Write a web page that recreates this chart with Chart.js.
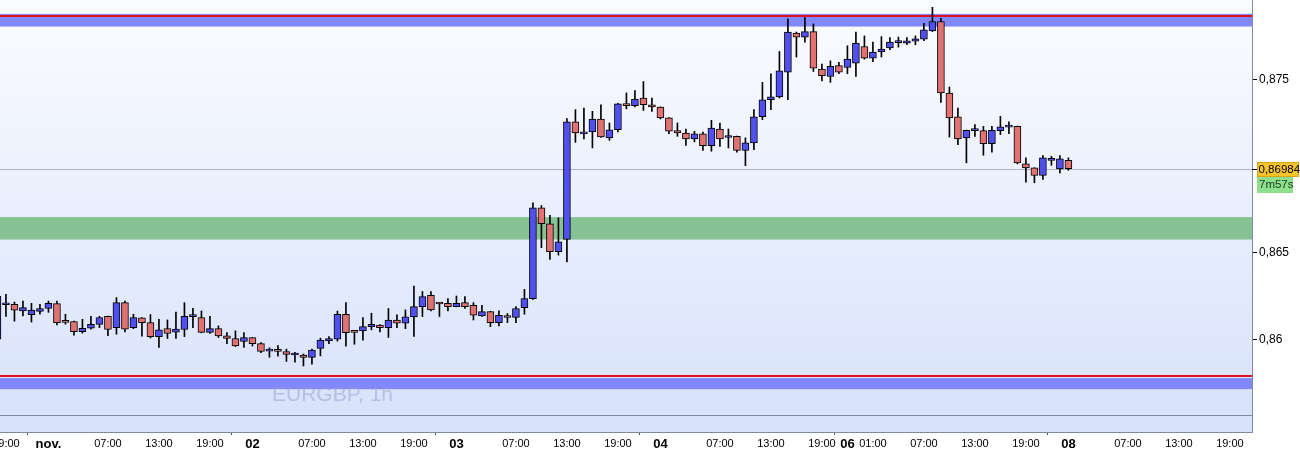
<!DOCTYPE html>
<html lang="fr">
<head>
    <meta charset="UTF-8">
    <title>EURGBP, 1h</title>
    <script src="https://cdn.jsdelivr.net/npm/chart.js"></script>
    <style>
        body, html {
            margin: 0;
            padding: 0;
            background: #fff;
        }
        #wrap {
            width: 1300px;
            height: 451px;
        }
    </style>
</head>
<body>
<div id="wrap"><canvas id="fxChart" width="1300" height="451"></canvas></div>
<script>
// hourly candles, slot -6 .. 120 (weekend gap removed)
const firstSlot = -6;
const opens = [
    0.86001, 0.86200, 0.86202, 0.86164, 0.86143, 0.86162, 0.86178, 0.86206, 0.86100, 0.86103,
    0.86045, 0.86064, 0.86087, 0.86133, 0.86068, 0.86212, 0.86068, 0.86124, 0.86097, 0.86016,
    0.86062, 0.86041, 0.86057, 0.86131, 0.86126, 0.86040, 0.86062, 0.86020, 0.86005, 0.85988,
    0.86011, 0.85976, 0.85932, 0.85934, 0.85930, 0.85910, 0.85910, 0.85896, 0.85948, 0.85991,
    0.86001, 0.86144, 0.86049, 0.86049, 0.86074, 0.86083, 0.86068, 0.86112, 0.86093, 0.86130,
    0.86189, 0.86254, 0.86206, 0.86208, 0.86189, 0.86212, 0.86197, 0.86135, 0.86160, 0.86097,
    0.86135, 0.86126, 0.86183, 0.86235, 0.86759, 0.86667, 0.86506, 0.86576, 0.87254, 0.87185,
    0.87196, 0.87271, 0.87162, 0.87209, 0.87359, 0.87348, 0.87392, 0.87353, 0.87340, 0.87277,
    0.87204, 0.87190, 0.87156, 0.87185, 0.87117, 0.87213, 0.87164, 0.87171, 0.87089, 0.87133,
    0.87284, 0.87382, 0.87398, 0.87541, 0.87766, 0.87743, 0.87775, 0.87559, 0.87516, 0.87579,
    0.87568, 0.87593, 0.87689, 0.87622, 0.87657, 0.87680, 0.87711, 0.87708, 0.87719, 0.87731,
    0.87779, 0.87833, 0.87421, 0.87283, 0.87162, 0.87204, 0.87204, 0.87129, 0.87204, 0.87224,
    0.87228, 0.87012, 0.86989, 0.86945, 0.87032, 0.86983, 0.87033
];
const highs = [
    0.86260, 0.86260, 0.86215, 0.86221, 0.86208, 0.86202, 0.86221, 0.86221, 0.86145, 0.86105,
    0.86116, 0.86133, 0.86133, 0.86135, 0.86241, 0.86221, 0.86145, 0.86126, 0.86143, 0.86116,
    0.86112, 0.86158, 0.86212, 0.86179, 0.86164, 0.86133, 0.86078, 0.86039, 0.86049, 0.86039,
    0.86012, 0.85982, 0.85951, 0.85964, 0.85944, 0.85925, 0.85916, 0.85944, 0.86007, 0.86016,
    0.86163, 0.86212, 0.86050, 0.86126, 0.86151, 0.86085, 0.86178, 0.86141, 0.86170, 0.86308,
    0.86276, 0.86276, 0.86212, 0.86235, 0.86250, 0.86247, 0.86212, 0.86197, 0.86162, 0.86164,
    0.86149, 0.86189, 0.86289, 0.86788, 0.86772, 0.86715, 0.86701, 0.87273, 0.87325, 0.87334,
    0.87315, 0.87353, 0.87248, 0.87361, 0.87421, 0.87434, 0.87487, 0.87392, 0.87341, 0.87279,
    0.87248, 0.87213, 0.87200, 0.87196, 0.87263, 0.87248, 0.87213, 0.87172, 0.87162, 0.87325,
    0.87482, 0.87532, 0.87660, 0.87848, 0.87772, 0.87856, 0.87819, 0.87587, 0.87606, 0.87597,
    0.87693, 0.87772, 0.87750, 0.87714, 0.87746, 0.87741, 0.87743, 0.87741, 0.87750, 0.87823,
    0.87915, 0.87852, 0.87455, 0.87334, 0.87207, 0.87238, 0.87228, 0.87228, 0.87286, 0.87254,
    0.87230, 0.87047, 0.86990, 0.87060, 0.87056, 0.87060, 0.87047
];
const lows = [
    0.85972, 0.86133, 0.86105, 0.86135, 0.86100, 0.86145, 0.86156, 0.86083, 0.86088, 0.86024,
    0.86036, 0.86059, 0.86068, 0.86021, 0.86030, 0.86043, 0.86062, 0.86018, 0.86008, 0.85953,
    0.86005, 0.86005, 0.86016, 0.86068, 0.86038, 0.86034, 0.86011, 0.85976, 0.85959, 0.85953,
    0.85962, 0.85924, 0.85897, 0.85903, 0.85873, 0.85868, 0.85847, 0.85857, 0.85905, 0.85975,
    0.85990, 0.85961, 0.85972, 0.85995, 0.86055, 0.86043, 0.86011, 0.86068, 0.86062, 0.86017,
    0.86132, 0.86164, 0.86132, 0.86164, 0.86188, 0.86178, 0.86112, 0.86132, 0.86074, 0.86078,
    0.86097, 0.86097, 0.86145, 0.86230, 0.86529, 0.86461, 0.86486, 0.86446, 0.87136, 0.87156,
    0.87104, 0.87165, 0.87148, 0.87196, 0.87329, 0.87340, 0.87320, 0.87315, 0.87271, 0.87186,
    0.87171, 0.87119, 0.87139, 0.87089, 0.87085, 0.87113, 0.87104, 0.87080, 0.87002, 0.87094,
    0.87267, 0.87325, 0.87392, 0.87382, 0.87628, 0.87714, 0.87545, 0.87491, 0.87482, 0.87532,
    0.87532, 0.87516, 0.87616, 0.87602, 0.87628, 0.87670, 0.87685, 0.87699, 0.87699, 0.87723,
    0.87775, 0.87367, 0.87167, 0.87123, 0.87018, 0.87171, 0.87062, 0.87079, 0.87181, 0.87186,
    0.87012, 0.86906, 0.86903, 0.86922, 0.87004, 0.86960, 0.86975
];
const closes = [
    0.86248, 0.86204, 0.86169, 0.86183, 0.86169, 0.86178, 0.86208, 0.86097, 0.86098, 0.86045,
    0.86064, 0.86087, 0.86126, 0.86057, 0.86212, 0.86059, 0.86126, 0.86097, 0.86016, 0.86055,
    0.86034, 0.86060, 0.86133, 0.86133, 0.86040, 0.86062, 0.86020, 0.86005, 0.85963, 0.86011,
    0.85976, 0.85930, 0.85934, 0.85931, 0.85913, 0.85911, 0.85896, 0.85938, 0.85996, 0.86005,
    0.86144, 0.86039, 0.86040, 0.86074, 0.86087, 0.86068, 0.86112, 0.86093, 0.86130, 0.86189,
    0.86247, 0.86170, 0.86204, 0.86189, 0.86208, 0.86189, 0.86139, 0.86160, 0.86097, 0.86139,
    0.86126, 0.86178, 0.86235, 0.86759, 0.86667, 0.86506, 0.86563, 0.87254, 0.87190, 0.87196,
    0.87271, 0.87167, 0.87209, 0.87359, 0.87348, 0.87386, 0.87353, 0.87340, 0.87277, 0.87200,
    0.87190, 0.87156, 0.87185, 0.87117, 0.87219, 0.87156, 0.87166, 0.87089, 0.87133, 0.87283,
    0.87382, 0.87398, 0.87549, 0.87772, 0.87743, 0.87775, 0.87564, 0.87520, 0.87574, 0.87541,
    0.87616, 0.87708, 0.87622, 0.87657, 0.87674, 0.87714, 0.87713, 0.87722, 0.87733, 0.87785,
    0.87833, 0.87421, 0.87277, 0.87156, 0.87205, 0.87206, 0.87129, 0.87205, 0.87225, 0.87226,
    0.87018, 0.86989, 0.86945, 0.87047, 0.87034, 0.87041, 0.86984
];

// time axis labels (slot index -> text)
const tickSlots = [-5, 0, 7, 13, 19, 24, 31, 37, 43, 48, 55, 61, 67, 72, 79, 85, 91, 94, 97, 103, 109, 115, 120, 127, 133, 139];
const tickLabels = ['19:00', 'nov.', '07:00', '13:00', '19:00', '02', '07:00', '13:00', '19:00', '03', '07:00', '13:00', '19:00', '04',
    '07:00', '13:00', '19:00', '06', '01:00', '07:00', '13:00', '19:00', '08', '07:00', '13:00', '19:00'];
const priceTicks = [0.86, 0.865, 0.875];

// levels drawn on the chart
const upperZone = [0.87804, 0.87877];
const upperLine = 0.87864;
const greenZone = [0.86576, 0.86705];
const lowerZone = [0.85713, 0.85777];
const lowerLine = 0.85791;
const bottomLine = 0.85564;
const lastPrice = 0.86984;
const timerText = '7m57s';
const symbolText = 'EURGBP, 1h';

const wickData = opens.map((o, k) => ({ x: firstSlot + k, y: [lows[k], highs[k]] }));
const bodyData = opens.map((o, k) => ({ x: firstSlot + k, y: [o, closes[k]] }));

const fmt = v => String(v).replace('.', ',');
const FONT = 'Arial, "Liberation Sans", sans-serif';

// background, zones, lines and watermark
const levelsPlugin = {
    id: 'levels',
    beforeDraw(chart) {
        const { ctx, chartArea: a } = chart;
        ctx.save();
        ctx.fillStyle = '#ffffff';
        ctx.fillRect(0, 0, chart.width, chart.height);
        const g = ctx.createLinearGradient(0, a.top, 0, a.bottom);
        g.addColorStop(0, '#fbfcff');
        g.addColorStop(1, '#d6e1fb');
        ctx.fillStyle = g;
        ctx.fillRect(a.left, a.top, a.right - a.left, a.bottom - a.top);
        ctx.restore();
    },
    beforeDatasetsDraw(chart) {
        const { ctx, chartArea: a, scales: { y } } = chart;
        const band = (z, color) => {
            const y1 = y.getPixelForValue(z[1]);
            const y0 = y.getPixelForValue(z[0]);
            ctx.fillStyle = color;
            ctx.fillRect(a.left, y1, a.right - a.left, y0 - y1);
        };
        const line = (v, color, w) => {
            const py = Math.round(y.getPixelForValue(v)) + (w % 2 ? 0.5 : 0);
            ctx.strokeStyle = color;
            ctx.lineWidth = w;
            ctx.beginPath();
            ctx.moveTo(a.left, py);
            ctx.lineTo(a.right, py);
            ctx.stroke();
        };
        ctx.save();
        band(upperZone, '#8088fc');
        band(greenZone, '#86c293');
        band(lowerZone, '#8088fc');
        line(upperLine, '#e0101c', 2);
        line(lowerLine, '#e0101c', 2);
        line(bottomLine, '#7f8a9e', 1);
        line(lastPrice, '#b0b4bc', 1);
        ctx.font = '21px ' + FONT;
        ctx.fillStyle = 'rgba(145, 158, 205, 0.5)';
        ctx.textBaseline = 'alphabetic';
        ctx.fillText(symbolText, 272, 401);
        ctx.restore();
    },
    afterDraw(chart) {
        const { ctx, chartArea: a, scales: { y } } = chart;
        const py = Math.round(y.getPixelForValue(lastPrice));
        ctx.save();
        ctx.strokeStyle = '#000';
        ctx.lineWidth = 1;
        ctx.beginPath();
        ctx.moveTo(a.right, py + 0.5);
        ctx.lineTo(a.right + 5, py + 0.5);
        ctx.stroke();
        // price tag
        ctx.fillStyle = '#f6c429';
        ctx.fillRect(1257, py - 7, 42, 15);
        ctx.strokeStyle = '#d9a514';
        ctx.strokeRect(1257.5, py - 6.5, 41, 14);
        ctx.fillStyle = '#8ee08e';
        ctx.fillRect(1257, py + 8, 36, 16);
        ctx.font = '11.5px ' + FONT;
        ctx.textBaseline = 'middle';
        ctx.fillStyle = '#000';
        ctx.fillText(fmt(lastPrice), 1258.5, py + 1);
        ctx.fillStyle = '#1a3a1a';
        ctx.fillText(timerText, 1259, py + 16);
        ctx.restore();
    }
};

new Chart(document.getElementById('fxChart'), {
    type: 'bar',
    data: {
        datasets: [
            {
                label: 'body',
                data: bodyData,
                order: 0,
                grouped: false,
                barThickness: 7,
                minBarLength: 2,
                borderWidth: 1,
                borderColor: '#000',
                borderSkipped: false,
                backgroundColor: ctx => {
                    const r = ctx.raw;
                    if (!r) return '#5050ee';
                    return r.y[1] >= r.y[0] ? '#5050ee' : '#e07272';
                }
            },
            {
                label: 'wick',
                data: wickData,
                order: 1,
                grouped: false,
                barThickness: 1,
                backgroundColor: '#000',
                borderWidth: 0
            }
        ]
    },
    options: {
        responsive: false,
        animation: false,
        layout: { padding: 0 },
        plugins: {
            legend: { display: false },
            tooltip: { enabled: false }
        },
        scales: {
            x: {
                type: 'linear',
                min: -5.7,
                max: 141.6,
                offset: false,
                afterBuildTicks: s => { s.ticks = tickSlots.map(v => ({ value: v })); },
                afterFit: s => { s.height = 19; s.paddingLeft = 0; s.paddingRight = 0; },
                border: { color: '#7f8a9e' },
                grid: {
                    drawOnChartArea: false,
                    tickLength: 3,
                    tickColor: c => {
                        const t = tickLabels[tickSlots.indexOf(c.tick && c.tick.value)];
                        return t && t.indexOf(':') < 0 ? '#555' : 'rgba(0,0,0,0)';
                    }
                },
                ticks: {
                    autoSkip: false,
                    maxRotation: 0,
                    padding: 2,
                    color: '#000',
                    font: c => {
                        const t = tickLabels[tickSlots.indexOf(c.tick && c.tick.value)];
                        return t && t.indexOf(':') < 0
                            ? { family: FONT, size: 13, weight: 'bold' }
                            : { family: FONT, size: 11 };
                    },
                    callback: v => tickLabels[tickSlots.indexOf(v)] || ''
                }
            },
            y: {
                position: 'right',
                min: 0.85466,
                max: 0.87957,
                afterBuildTicks: s => { s.ticks = priceTicks.map(v => ({ value: v })); },
                afterFit: s => { s.width = 48; s.paddingTop = 0; s.paddingBottom = 0; },
                border: { color: '#7f8a9e' },
                grid: {
                    drawOnChartArea: false,
                    tickLength: 5,
                    tickColor: '#000'
                },
                ticks: {
                    padding: 2,
                    color: '#000',
                    font: { family: FONT, size: 12 },
                    callback: v => fmt(v)
                }
            }
        }
    },
    plugins: [levelsPlugin]
});
</script>
</body>
</html>
